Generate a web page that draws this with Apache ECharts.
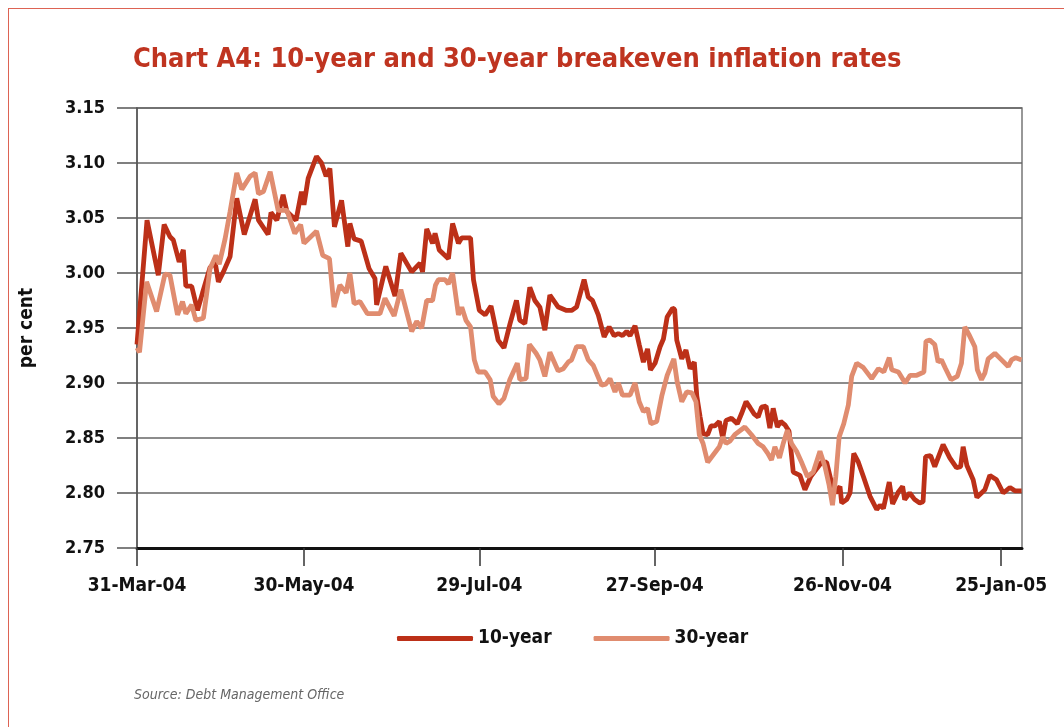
<!DOCTYPE html>
<html>
<head>
<meta charset="utf-8">
<title>Chart A4</title>
<script src="https://cdn.jsdelivr.net/npm/echarts@6/dist/echarts.min.js"></script>
<style>
    html, body { margin: 0; padding: 0; background: #fff; }
    #wrap { position: relative; width: 1064px; height: 727px; overflow: hidden; }
    #frame { position: absolute; left: 8px; top: 8px; width: 1100px; height: 800px;
             border-left: 1.5px solid #dd6354; border-top: 1.5px solid #dd6354; }
    #chart { position: absolute; left: 0; top: 0; width: 1064px; height: 727px; }
</style>
</head>
<body>
<div id="wrap">
    <div id="frame"></div>
    <div id="chart"></div>
</div>
<script>
// x axis = trading days since 31-Mar-04
var tickDays = [0, 40, 82, 124, 169, 207];
var tickLabels = ['31-Mar-04', '30-May-04', '29-Jul-04', '27-Sep-04', '26-Nov-04', '25-Jan-05'];

//10-year breakeven
var tenYearDay = [0, 2.4, 5.1, 6.5, 7.9, 8.7, 10.1, 11.1, 11.7, 13.1,
    14.5, 15.7, 17.5, 18.7, 19.5, 20.7, 22.3, 23.9, 25.7, 28.3,
    29.1, 31.4, 32.1, 33.5, 35.0, 35.9, 38.1, 39.4, 40.0, 41.0,
    43.0, 44.2, 45.3, 46.2, 47.3, 49.0, 50.5, 51.0, 52.0, 53.7,
    55.6, 57.0, 57.4, 59.6, 61.8, 63.2, 65.8, 67.8, 68.4, 69.4,
    70.8, 71.4, 72.4, 74.6, 75.6, 77.0, 77.8, 79.9, 80.6, 82.0,
    83.4, 84.8, 86.5, 87.9, 89.3, 90.9, 91.7, 92.9, 94.1, 95.3,
    96.5, 97.7, 98.9, 100.9, 102.9, 104.1, 105.3, 107.1, 108.1, 109.1,
    110.5, 111.9, 113.1, 114.3, 115.3, 116.3, 117.3, 118.1, 119.3, 120.3,
    121.3, 122.3, 123.0, 124.1, 125.3, 126.1, 127.0, 128.3, 128.8, 129.3,
    130.5, 131.5, 132.5, 133.5, 134.1, 134.9, 135.6, 136.7, 137.5, 138.4,
    139.5, 140.3, 141.1, 142.4, 143.8, 144.8, 145.9, 146.8, 147.8, 148.8,
    149.6, 150.7, 151.6, 152.4, 153.4, 154.2, 155.2, 156.2, 157.2, 158.8,
    160.0, 161.4, 162.8, 164.0, 165.2, 166.4, 167.4, 168.4, 168.8, 170.0,
    170.8, 171.7, 172.8, 174.0, 175.6, 177.2, 178.0, 178.8, 180.2, 181.0,
    182.4, 183.4, 183.9, 185.1, 186.3, 187.5, 188.3, 188.9, 190.1, 191.1,
    193.1, 194.7, 196.3, 197.3, 197.9, 198.8, 200.3, 201.2, 203.1, 204.3,
    205.9, 207.5, 209.1, 210.3, 211.9];
var tenYear = [2.935, 3.048, 2.998, 3.044, 3.033, 3.030, 3.010, 3.021, 2.988, 2.988,
    2.966, 2.982, 3.005, 3.010, 2.992, 3.001, 3.015, 3.068, 3.035, 3.067,
    3.048, 3.035, 3.055, 3.048, 3.071, 3.056, 3.048, 3.074, 3.062, 3.086,
    3.106, 3.100, 3.088, 3.095, 3.042, 3.066, 3.024, 3.045, 3.031, 3.029,
    3.004, 2.995, 2.971, 3.006, 2.979, 3.018, 3.001, 3.009, 3.001, 3.040,
    3.027, 3.036, 3.021, 3.013, 3.045, 3.027, 3.032, 3.032, 2.994, 2.966,
    2.962, 2.970, 2.939, 2.932, 2.953, 2.975, 2.957, 2.954, 2.987, 2.975,
    2.969, 2.948, 2.980, 2.969, 2.966, 2.966, 2.969, 2.994, 2.978, 2.975,
    2.962, 2.942, 2.951, 2.943, 2.945, 2.943, 2.947, 2.943, 2.952, 2.935,
    2.919, 2.931, 2.912, 2.918, 2.933, 2.940, 2.960, 2.968, 2.967, 2.939,
    2.922, 2.930, 2.913, 2.919, 2.888, 2.869, 2.854, 2.853, 2.861, 2.861,
    2.865, 2.850, 2.866, 2.868, 2.863, 2.872, 2.883, 2.878, 2.872, 2.869,
    2.878, 2.879, 2.859, 2.877, 2.860, 2.865, 2.862, 2.856, 2.819, 2.816,
    2.803, 2.815, 2.822, 2.828, 2.828, 2.809, 2.800, 2.806, 2.791, 2.794,
    2.800, 2.836, 2.828, 2.815, 2.797, 2.785, 2.789, 2.786, 2.810, 2.790,
    2.801, 2.806, 2.794, 2.800, 2.794, 2.791, 2.792, 2.833, 2.834, 2.824,
    2.844, 2.832, 2.823, 2.824, 2.842, 2.825, 2.812, 2.796, 2.803, 2.816,
    2.812, 2.800, 2.805, 2.802, 2.802];

//30-year breakeven
var thirtyYearDay = [0, 0.6, 2.3, 4.7, 6.7, 7.9, 9.7, 10.9, 11.7, 13.1,
    14.1, 15.9, 17.5, 18.9, 19.7, 21.1, 22.3, 23.9, 25.1, 27.1,
    28.3, 29.1, 30.3, 31.9, 33.8, 35.9, 37.8, 39.2, 40.0, 43.0,
    44.5, 46.1, 47.2, 48.6, 50.1, 51.0, 52.0, 53.4, 55.2, 57.0,
    58.2, 59.4, 61.6, 63.2, 65.8, 67.0, 68.2, 69.4, 70.8, 71.5,
    72.2, 73.8, 74.6, 75.6, 77.0, 77.8, 78.8, 79.9, 80.8, 81.7,
    83.4, 84.6, 85.3, 86.7, 87.9, 89.3, 91.1, 91.7, 93.2, 94.0,
    95.6, 96.5, 97.7, 98.9, 100.9, 102.1, 103.3, 104.1, 105.3, 106.9,
    108.1, 109.3, 111.3, 112.3, 113.3, 114.5, 115.3, 116.3, 118.1, 119.3,
    120.3, 121.3, 122.3, 123.1, 124.5, 125.7, 127.0, 128.6, 129.4, 130.5,
    131.7, 132.9, 133.9, 134.7, 135.6, 136.7, 138.1, 139.5, 140.3, 141.1,
    142.0, 143.2, 145.6, 147.2, 148.8, 150.0, 151.1, 152.0, 152.8, 153.9,
    154.8, 155.8, 156.8, 158.0, 159.3, 160.6, 162.0, 163.6, 164.8, 165.8,
    166.6, 167.4, 168.2, 169.3, 170.4, 171.2, 172.4, 174.0, 176.0, 177.6,
    178.9, 180.2, 180.8, 182.4, 184.0, 185.2, 186.8, 188.5, 189.0, 189.9,
    191.1, 191.9, 192.7, 193.7, 195.0, 196.5, 197.5, 198.3, 199.3, 200.7,
    201.3, 202.3, 203.1, 203.9, 205.5, 207.1, 208.7, 209.5, 210.5, 211.9];
var thirtyYear = [2.932, 2.928, 2.992, 2.965, 2.999, 2.998, 2.962, 2.974, 2.963, 2.971,
    2.957, 2.959, 3.004, 3.016, 3.008, 3.031, 3.056, 3.091, 3.076, 3.088,
    3.091, 3.072, 3.074, 3.092, 3.057, 3.057, 3.036, 3.044, 3.027, 3.038,
    3.016, 3.013, 2.969, 2.989, 2.982, 3.000, 2.972, 2.974, 2.963, 2.963,
    2.963, 2.977, 2.961, 2.985, 2.947, 2.956, 2.950, 2.975, 2.975, 2.989,
    2.994, 2.994, 2.990, 3.000, 2.962, 2.969, 2.957, 2.951, 2.921, 2.910,
    2.910, 2.903, 2.888, 2.881, 2.886, 2.903, 2.918, 2.903, 2.904, 2.935,
    2.927, 2.921, 2.906, 2.928, 2.911, 2.913, 2.919, 2.921, 2.933, 2.933,
    2.921, 2.916, 2.898, 2.899, 2.904, 2.892, 2.900, 2.889, 2.889, 2.900,
    2.883, 2.874, 2.877, 2.863, 2.865, 2.888, 2.907, 2.922, 2.901, 2.883,
    2.892, 2.891, 2.883, 2.853, 2.845, 2.828, 2.835, 2.842, 2.851, 2.845,
    2.847, 2.853, 2.860, 2.853, 2.845, 2.842, 2.836, 2.830, 2.842, 2.832,
    2.845, 2.857, 2.845, 2.838, 2.827, 2.815, 2.819, 2.838, 2.824, 2.807,
    2.789, 2.815, 2.851, 2.863, 2.880, 2.906, 2.918, 2.914, 2.904, 2.913,
    2.910, 2.923, 2.912, 2.910, 2.900, 2.907, 2.907, 2.910, 2.938, 2.939,
    2.935, 2.919, 2.921, 2.913, 2.903, 2.906, 2.918, 2.951, 2.944, 2.933,
    2.912, 2.903, 2.909, 2.922, 2.927, 2.921, 2.915, 2.921, 2.923, 2.921];

var FONT = '"DejaVu Sans Condensed", "Liberation Sans Narrow", sans-serif';

function pairs(days, vals) {
    return days.map(function (d, i) { return [d, vals[i]]; });
}

var myChart = echarts.init(document.getElementById('chart'));
var option = {
    backgroundColor: 'transparent',
    animation: false,
    title: {
        text: 'Chart A4: 10-year and 30-year breakeven inflation rates',
        left: 128,
        top: 41,
        textStyle: {
            color: '#bf3420',
            fontFamily: FONT,
            fontWeight: 'bold',
            fontSize: 27
        }
    },
    legend: {
        data: ['10-year', '30-year'],
        left: 392,
        top: 624,
        icon: 'roundRect',
        itemWidth: 76,
        itemHeight: 5,
        itemGap: 42,
        textStyle: {
            color: '#111',
            fontFamily: FONT,
            fontWeight: 'bold',
            fontSize: 19
        }
    },
    grid: {
        left: 137,
        right: 42,
        top: 108,
        bottom: 179,
        show: true,
        borderColor: '#777',
        borderWidth: 1.5
    },
    xAxis: {
        type: 'value',
        min: 0,
        max: 212,
        axisLine: {show: true, lineStyle: {color: '#111', width: 3}},
        axisTick: {
            show: true,
            customValues: tickDays,
            length: 18,
            lineStyle: {color: '#333', width: 1.5}
        },
        axisLabel: {
            customValues: tickDays,
            margin: 29,
            color: '#111',
            fontFamily: FONT,
            fontWeight: 'bold',
            fontSize: 19,
            formatter: function (v) {
                return tickLabels[tickDays.indexOf(v)];
            }
        },
        splitLine: {show: false}
    },
    yAxis: {
        type: 'value',
        min: 2.75,
        max: 3.15,
        interval: 0.05,
        name: 'per cent',
        nameLocation: 'middle',
        nameGap: 100,
        nameTextStyle: {
            color: '#111',
            fontFamily: FONT,
            fontWeight: 'bold',
            fontSize: 19
        },
        axisLine: {show: true, lineStyle: {color: '#555', width: 1.5}},
        axisTick: {show: true, length: 20, lineStyle: {color: '#555', width: 1.5}},
        axisLabel: {
            margin: 32,
            color: '#111',
            fontFamily: FONT,
            fontWeight: 'bold',
            fontSize: 18,
            formatter: function (v) { return v.toFixed(2); }
        },
        splitLine: {lineStyle: {color: '#666', width: 1.5}}
    },
    graphic: [{
        type: 'text',
        left: 134,
        top: 688,
        style: {
            text: 'Source: Debt Management Office',
            fill: '#666',
            font: 'italic 14px ' + FONT
        }
    }],
    series: [
        {
            name: '10-year',
            type: 'line',
            showSymbol: false,
            color: '#bc3018',
            lineStyle: {width: 4.8, color: '#bc3018'},
            data: pairs(tenYearDay, tenYear)
        },
        {
            name: '30-year',
            type: 'line',
            showSymbol: false,
            color: '#e08c6f',
            lineStyle: {width: 4.8, color: '#e08c6f'},
            data: pairs(thirtyYearDay, thirtyYear)
        }
    ]
};
myChart.setOption(option);
</script>
</body>
</html>
